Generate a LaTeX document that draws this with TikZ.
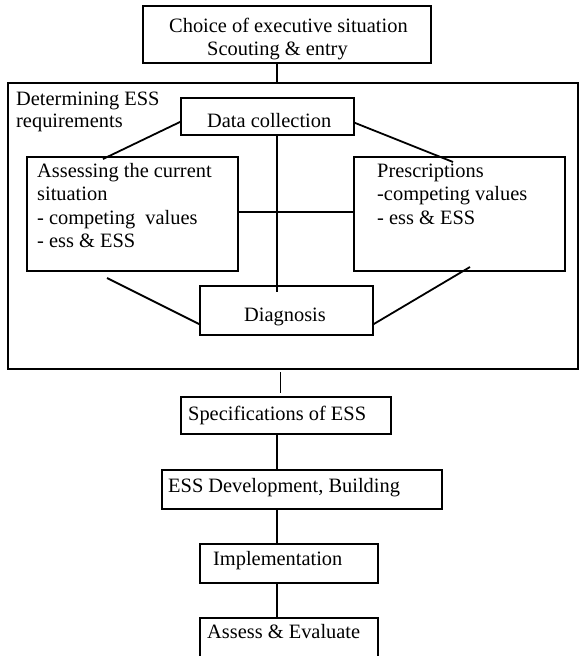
\documentclass[tikz,border=0pt]{standalone}
\usepackage{fontspec}
\setmainfont{Liberation Serif}
\begin{document}
\begin{tikzpicture}[x=1pt,y=-1pt,
  box/.style={draw, line width=1.8pt, inner sep=0pt, outer sep=0pt},
  conn/.style={line width=1.8pt},
  thinconn/.style={line width=1pt},
  lbl/.style={font=\fontsize{20.4}{23.6}\selectfont, inner sep=0pt, align=left, anchor=base west}]
\path[use as bounding box] (0,0) rectangle (580,656);
\clip (0,0) rectangle (580,656);
\coordinate (axis) at (277,0);
% boxes
\node[box, minimum width=288pt, minimum height=57pt] (top) at (287,34.5) {};
\node[box, minimum width=570pt, minimum height=286pt] (outer) at (293,226) {};
\node[box, minimum width=173pt, minimum height=37pt] (data) at (267.5,116.5) {};
\node[box, minimum width=211pt, minimum height=114pt] (left) at (132.5,214) {};
\node[box, minimum width=211pt, minimum height=114pt] (right) at (459.5,214) {};
\node[box, minimum width=173pt, minimum height=49pt] (diag) at (286.5,310.5) {};
\node[box, minimum width=210pt, minimum height=37pt] (spec) at (286,415.5) {};
\node[box, minimum width=280pt, minimum height=39pt] (dev) at (302,489.5) {};
\node[box, minimum width=178pt, minimum height=39pt] (impl) at (289,563.5) {};
\node[box, minimum width=178pt, minimum height=46pt] (assess) at (289,641) {};
% texts (base west = baseline of the last line)
\node[lbl] (ttop) at (169,55.6) {Choice of executive situation\\\hspace{38pt}Scouting \& entry};
\node[lbl, font=\fontsize{20.4}{22}\selectfont] (tdet) at (16,127) {Determining ESS\\requirements};
\node[lbl] (tdata) at (207,127) {Data collection};
\node[lbl] (tleft) at (37,247.8) {Assessing the current\\situation\\- competing\ \ values\\- ess \& ESS};
\node[lbl] (tright) at (377,224.2) {Prescriptions\\-competing values\\- ess \& ESS};
\node[lbl] (tdiag) at (244,321) {Diagnosis};
\node[lbl] (tspec) at (188,420) {Specifications of ESS};
\node[lbl] (tdev) at (168,492) {ESS Development, Building};
\node[lbl] (timpl) at (213,565) {Implementation};
\node[lbl] (tassess) at (207,638) {Assess \& Evaluate};
% free ends
\coordinate (dl) at (103,159);
\coordinate (dr) at (453,162);
\coordinate (vend) at (277,292);
\coordinate (ll) at (107,278);
\coordinate (rr) at (470,267);
\coordinate (t1) at (280,372);
\coordinate (t2) at (280,393);
% connectors
\draw[conn] (top.south -| axis) -- (outer.north -| axis);
\draw[conn] ([yshift=-5pt]data.west) -- (dl);
\draw[conn] ([yshift=-6pt]data.east) -- (dr);
\draw[conn] (data.south -| axis) -- (vend);
\draw[conn] ([yshift=2pt]left.east) -- ([yshift=2pt]right.west);
\draw[conn] (ll) -- ([yshift=-14pt]diag.west);
\draw[conn] (rr) -- ([yshift=-14pt]diag.east);
\draw[thinconn] (t1) -- (t2);
\draw[conn] (spec.south -| axis) -- (dev.north -| axis);
\draw[conn] (dev.south -| axis) -- (impl.north -| axis);
\draw[conn] (impl.south -| axis) -- (assess.north -| axis);
\end{tikzpicture}
\end{document}
